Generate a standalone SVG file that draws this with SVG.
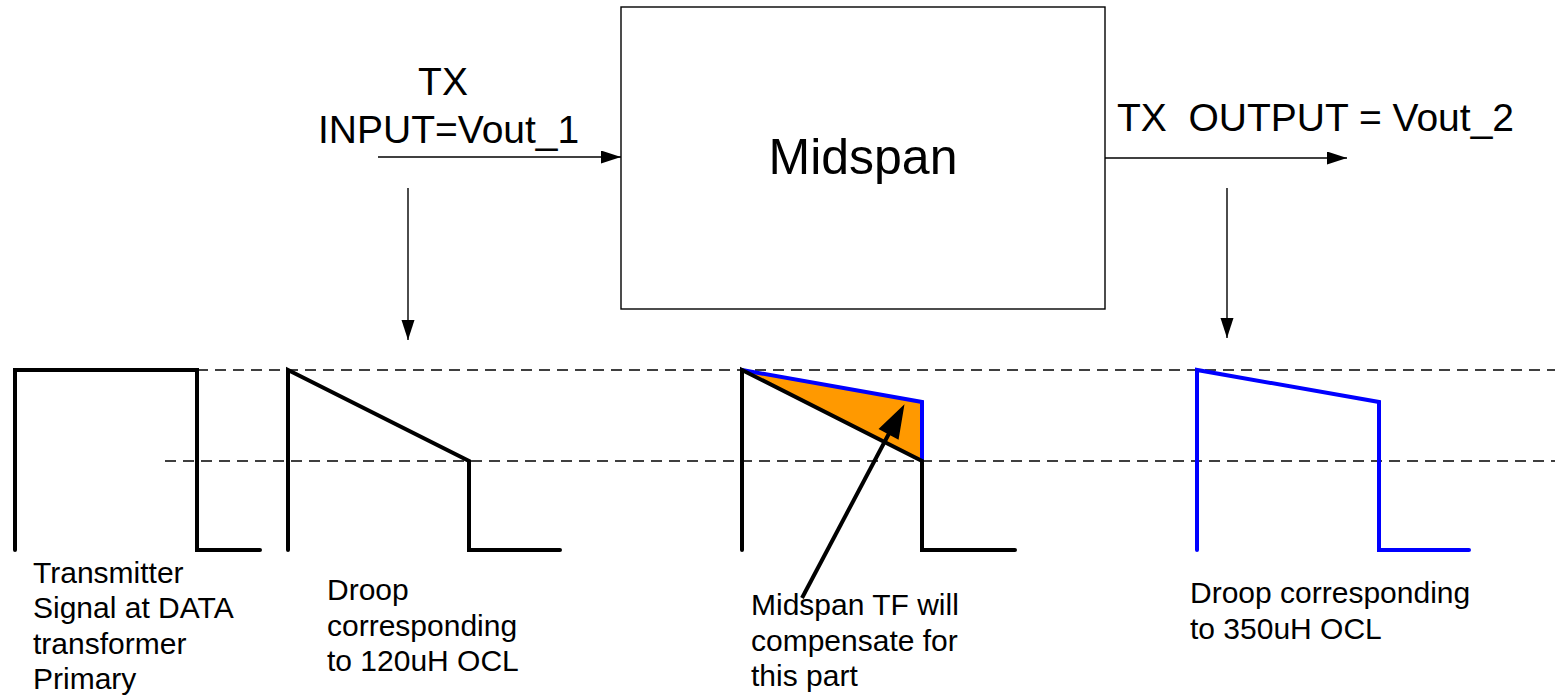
<svg xmlns="http://www.w3.org/2000/svg" width="1555" height="696" viewBox="0 0 1555 696">
<style>
text{font-family:"Liberation Sans",Arial,sans-serif;fill:#000}
.lbl{font-size:30px}
.big{font-size:39px}
.thin{stroke:#000;stroke-width:1.4;fill:none}
.dash{stroke:#000;stroke-width:1.3;stroke-dasharray:11 7;fill:none}
.pk{stroke:#000;stroke-width:4;fill:none;stroke-linecap:round;stroke-linejoin:miter}
.pb{stroke:#0000ff;stroke-width:4;fill:none;stroke-linecap:round;stroke-linejoin:miter}
</style>
<defs>
<marker id="ah" markerUnits="userSpaceOnUse" markerWidth="21" markerHeight="14" refX="20" refY="6.5" orient="auto">
<path d="M0,0 L20,6.5 L0,13 z" fill="#000"/>
</marker>
</defs>
<rect width="1555" height="696" fill="#fff"/>
<g id="midspan">
<rect x="621" y="7" width="484" height="302" fill="#fff" stroke="#000" stroke-width="1.4"/>
<text x="863" y="174" font-size="50" text-anchor="middle">Midspan</text>
</g>
<g id="input-label">
<text class="big" x="443" y="95" text-anchor="middle">TX</text>
<text class="big" x="318" y="143">INPUT=Vout_1</text>
</g>
<g id="output-label">
<text class="big" x="1117" y="131" xml:space="preserve">TX  OUTPUT = Vout_2</text>
</g>
<g id="guides">
<line class="dash" x1="197" y1="370" x2="1555" y2="370"/>
<line class="dash" x1="165" y1="461" x2="1555" y2="461"/>
</g>
<g id="pulse-tx">
<path class="pk" d="M15,550 L15,370 L197,370 L197,550 L260,550"/>
<text class="lbl" x="33" y="583">Transmitter</text>
<text class="lbl" x="33" y="618">Signal at DATA</text>
<text class="lbl" x="33" y="654">transformer</text>
<text class="lbl" x="33" y="689">Primary</text>
</g>
<g id="pulse-120">
<path class="pk" d="M288,550 L288,370 L469,461 L469,550 L560,550"/>
<text class="lbl" x="327" y="600">Droop</text>
<text class="lbl" x="327" y="636">corresponding</text>
<text class="lbl" x="327" y="671">to 120uH OCL</text>
</g>
<g id="pulse-mid">
<polygon points="742,370 922,402 922,461" fill="#ff9900"/>
<path class="pb" d="M742,370 L922,402 L922,461"/>
<path class="pk" d="M742,550 L742,370 L922,461 L922,550 L1015,550"/>
<text class="lbl" x="751" y="615">Midspan TF will</text>
<text class="lbl" x="751" y="651">compensate for</text>
<text class="lbl" x="751" y="686">this part</text>
</g>
<g id="pulse-350">
<path class="pb" d="M1197,550 L1197,370 L1379,402 L1379,550 L1469,550"/>
<text class="lbl" x="1190" y="603">Droop corresponding</text>
<text class="lbl" x="1190" y="639">to 350uH OCL</text>
</g>
<g id="connectors">
<line class="thin" x1="378" y1="157" x2="621" y2="157" marker-end="url(#ah)"/>
<line class="thin" x1="1105" y1="158" x2="1347" y2="158" marker-end="url(#ah)"/>
<line class="thin" x1="408" y1="188" x2="408" y2="340" marker-end="url(#ah)"/>
<line class="thin" x1="1227" y1="188" x2="1227" y2="338" marker-end="url(#ah)"/>
<line x1="802" y1="598" x2="889" y2="433.5" stroke="#000" stroke-width="4"/>
<polygon points="903,407 897.8,438.2 880.2,428.8" fill="#000" stroke="#000" stroke-width="2" stroke-linejoin="miter"/>
</g>
</svg>
